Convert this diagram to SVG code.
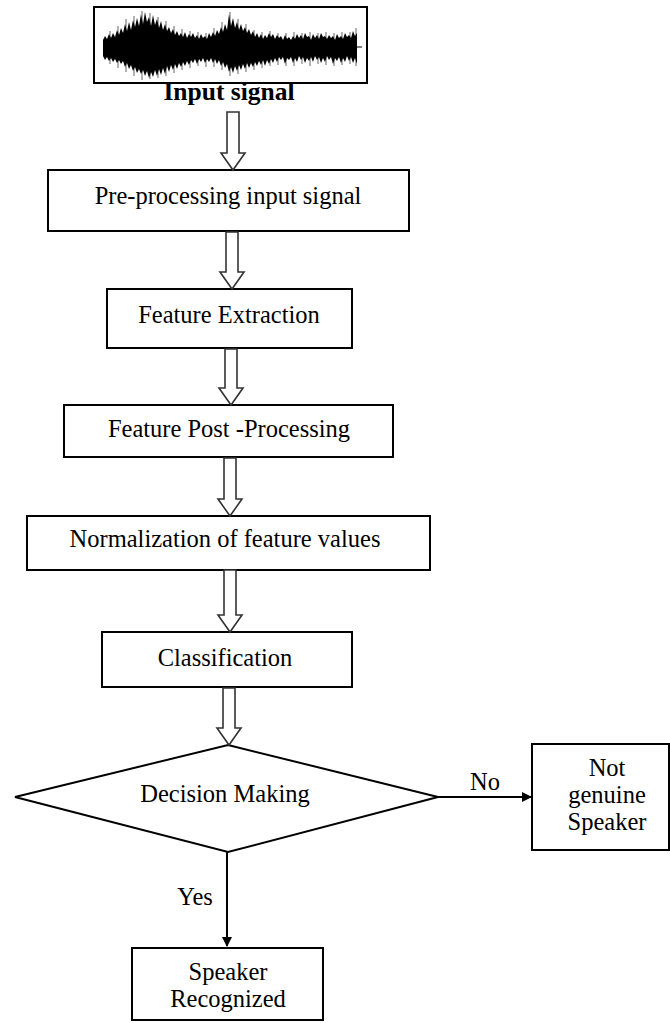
<svg xmlns="http://www.w3.org/2000/svg" width="670" height="1023" viewBox="0 0 670 1023">
<style>
.box{fill:#fff;stroke:#000;stroke-width:2}
.t{font-family:"Liberation Serif","Times New Roman",serif;font-size:24.5px;fill:#000;text-anchor:middle}
.tb{font-family:"Liberation Serif","Times New Roman",serif;font-size:25.5px;font-weight:bold;fill:#000;text-anchor:middle}
.hollow{fill:#fff;stroke:#333;stroke-width:1.6;stroke-linejoin:miter}
.line{stroke:#000;stroke-width:2;fill:none}
.noise{stroke:#000;stroke-width:1;opacity:0.6}
</style>
<defs>
<marker id="ah" markerWidth="10" markerHeight="10" refX="9" refY="5" orient="auto" markerUnits="userSpaceOnUse" viewBox="0 0 10 10">
<path d="M0,0 L10,5 L0,10 z" fill="#000"/>
</marker>
</defs>
<rect width="670" height="1023" fill="#fff"/>
<g id="input">
<rect class="box" x="94" y="7" width="273" height="76"/>
<polygon fill="#000" points="103,40 105,36 107,39 109,34 111,38 113,33 115,37 117,30 119,35 121,28 123,33 125,24 127,31 129,22 131,30 133,20 135,27 137,18 139,26 141,14 143,24 145,12 147,22 149,17 151,26 153,15 155,25 157,19 159,28 161,21 163,30 165,24 167,31 169,27 171,33 173,29 175,35 177,31 179,36 181,33 183,37 185,32 187,38 189,34 191,37 193,33 195,38 197,35 199,39 201,34 203,38 205,36 207,39 209,33 211,37 213,32 215,36 217,30 219,34 221,27 223,32 225,24 227,30 229,14 231,26 233,18 235,28 237,22 239,30 241,24 243,31 245,27 247,33 249,29 251,35 253,31 255,37 257,33 259,38 261,34 263,39 265,35 267,38 269,33 271,37 273,34 275,39 277,35 279,38 281,36 283,40 285,35 287,39 289,37 291,40 293,36 295,39 297,34 299,38 301,35 303,39 305,33 307,37 309,36 311,40 313,34 315,38 317,35 319,39 321,33 323,37 325,36 327,39 329,35 331,38 333,36 335,40 337,34 339,38 341,36 343,39 345,33 347,37 349,35 351,38 353,31 355,36 357,33 357,64 355,58 353,63 351,57 349,61 347,56 345,62 343,58 341,63 339,57 337,61 335,58 333,64 331,57 329,60 327,56 325,62 323,58 321,63 319,57 317,60 315,56 313,62 311,57 309,61 307,58 305,63 303,57 301,60 299,56 297,62 295,58 293,63 291,57 289,60 287,58 285,64 283,57 281,60 279,57 277,62 275,58 273,63 271,59 269,64 267,60 265,66 263,60 261,65 259,61 257,66 255,62 253,67 251,63 249,68 247,63 245,69 243,64 241,70 239,65 237,71 235,66 233,73 231,67 229,72 227,64 225,68 223,62 221,66 219,60 217,64 215,59 213,63 211,58 209,62 207,59 205,63 203,58 201,62 199,59 197,64 195,59 193,63 191,60 189,65 187,61 185,66 183,62 181,67 179,63 177,69 175,64 173,70 171,65 169,72 167,66 165,74 163,68 161,75 159,69 157,76 155,70 153,77 151,72 149,78 147,71 145,76 143,70 141,74 139,69 137,73 135,67 133,71 131,65 129,69 127,63 125,67 123,61 121,64 119,60 117,63 115,59 113,62 111,58 109,61 107,57 105,60 103,56"/>
<path class="noise" d="M110,31V64 M118,26V68 M126,19V72 M134,16V76 M142,11V80 M150,13V79 M158,17V78 M166,21V76 M174,26V73 M182,29V70 M190,31V68 M198,32V66 M206,33V67 M214,28V67 M222,22V70 M230,12V76 M238,19V74 M246,24V72 M254,30V70 M262,32V68 M270,31V66 M278,33V65 M286,33V66 M294,32V66 M302,33V64 M310,32V66 M318,33V64 M326,32V65 M334,33V66 M342,32V65 M350,32V64 M356,28V66"/>
<line x1="357" y1="47" x2="362" y2="47" stroke="#000" stroke-width="1"/>
<text class="tb" x="229" y="100">Input signal</text>
</g>
<g id="preprocess">
<rect class="box" x="48" y="170" width="361" height="61"/>
<text class="t" x="228" y="204">Pre-processing input signal</text>
</g>
<g id="extraction">
<rect class="box" x="107" y="289" width="245" height="59"/>
<text class="t" x="229" y="323">Feature Extraction</text>
</g>
<g id="postprocess">
<rect class="box" x="64" y="405" width="329" height="52"/>
<text class="t" x="229" y="437">Feature Post -Processing</text>
</g>
<g id="normalization">
<rect class="box" x="27" y="516" width="403" height="54"/>
<text class="t" x="225" y="547">Normalization of feature values</text>
</g>
<g id="classification">
<rect class="box" x="102" y="632" width="250" height="55"/>
<text class="t" x="225" y="666">Classification</text>
</g>
<g id="decision">
<polygon class="box" points="228,745 438,797 228,852 15,797"/>
<text class="t" x="225" y="802">Decision Making</text>
</g>
<g id="notgenuine">
<rect class="box" x="532" y="744" width="137" height="106"/>
<text class="t" x="607" y="776">Not</text>
<text class="t" x="607" y="803">genuine</text>
<text class="t" x="607" y="830">Speaker</text>
</g>
<g id="recognized">
<rect class="box" x="132" y="948" width="191" height="72"/>
<text class="t" x="228" y="980">Speaker</text>
<text class="t" x="228" y="1007">Recognized</text>
</g>
<g id="connectors">
<polygon class="hollow" points="227,112 239,112 239,153 245,153 233,170 221,153 227,153"/>
<polygon class="hollow" points="226,232 238,232 238,272 244,272 232,289 220,272 226,272"/>
<polygon class="hollow" points="225,349 237,349 237,388 243,388 231,405 219,388 225,388"/>
<polygon class="hollow" points="224,458 236,458 236,499 242,499 230,516 218,499 224,499"/>
<polygon class="hollow" points="224,570 236,570 236,615 242,615 230,632 218,615 224,615"/>
<polygon class="hollow" points="223,688 235,688 235,728 241,728 229,745 217,728 223,728"/>
<line class="line" x1="438" y1="797" x2="531" y2="797" marker-end="url(#ah)"/>
<text class="t" x="485" y="790">No</text>
<line class="line" x1="227" y1="852" x2="227" y2="946" marker-end="url(#ah)"/>
<text class="t" x="195" y="905">Yes</text>
</g>
</svg>
